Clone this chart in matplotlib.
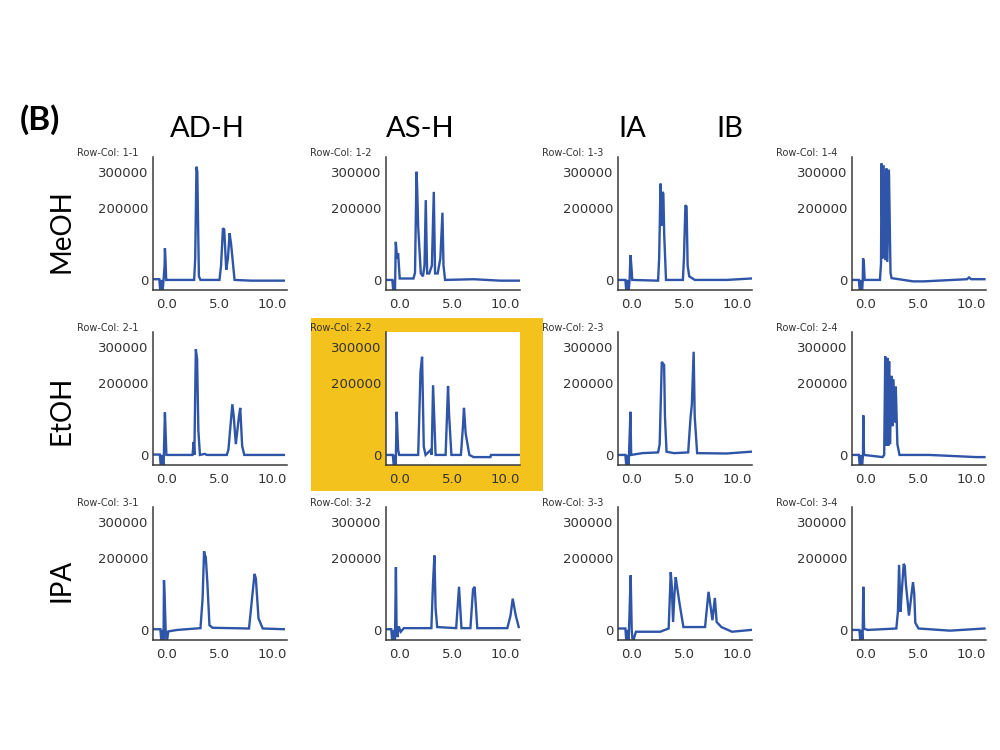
import matplotlib
matplotlib.use("Agg")
import matplotlib.pyplot as plt
from matplotlib.patches import Rectangle

# ---------------- data ----------------
COLUMNS = ["AD-H", "AS-H", "IA", "IB"]
ROWS = ["MeOH", "EtOH", "IPA"]
X_TICKS = [0.0, 5.0, 10.0]
X_TICKLABELS = ["0.0", "5.0", "10.0"]
Y_TICKS = [0, 200000, 300000]
Y_TICKLABELS = ["0", "200000", "300000"]

# Row 1 : MeOH
T_MEOH_ADH = [-1.27, -0.7, -0.6, -0.5, -0.4, -0.3, -0.2, -0.17, -0.1, -0.05, 0.1, 2.6, 2.7, 2.82, 2.9, 2.97, 3.05, 3.2, 5.0, 5.15, 5.33, 5.45, 5.64, 5.8, 5.96, 6.1, 6.43, 8.0, 11.1]
I_MEOH_ADH = [2000, 2000, -35000, 0, -35000, 0, 40000, 88000, 46000, 0, 0, 0, 60000, 315000, 301000, 162000, 10000, 0, 0, 40000, 144000, 140000, 28000, 60000, 130000, 100000, 0, -2000, -2000]

T_MEOH_ASH = [-1.3, -0.7, -0.6, -0.5, -0.45, -0.37, -0.25, -0.15, 0.0, 1.3, 1.45, 1.59, 1.65, 1.75, 2.0, 2.2, 2.35, 2.47, 2.6, 2.8, 3.05, 3.23, 3.35, 3.6, 3.85, 4.05, 4.15, 4.3, 7.0, 9.5, 11.34]
I_MEOH_ASH = [0, 0, -35000, 0, -35000, 106000, 60000, 74000, 4000, 4000, 20000, 301000, 259000, 148000, 18000, 10000, 40000, 222000, 18000, 18000, 40000, 245000, 18000, 18000, 60000, 187000, 40000, 0, 2000, -2000, -2000]

T_MEOH_IA = [-1.27, -0.6, -0.5, -0.4, -0.3, -0.2, -0.12, -0.05, 0.05, 2.5, 2.6, 2.73, 2.8, 2.92, 3.0, 3.08, 3.25, 4.85, 4.95, 5.09, 5.2, 5.3, 5.45, 5.98, 9.0, 11.31]
I_MEOH_IA = [0, 0, -35000, 0, -35000, 0, 69000, 46000, 0, -2000, 60000, 268000, 150000, 245000, 240000, 125000, 0, 0, 60000, 208000, 204000, 40000, 10000, 0, 0, 4000]

T_MEOH_IB = [-1.33, -0.65, -0.55, -0.45, -0.35, -0.28, -0.25, -0.18, -0.1, 1.35, 1.45, 1.5, 1.6, 1.7, 1.85, 1.97, 2.05, 2.2, 2.35, 2.45, 4.5, 5.5, 9.6, 9.8, 10.0, 11.25]
I_MEOH_IB = [0, 0, -35000, 0, -35000, 0, 60000, 50000, 0, 0, 46000, 324000, 60000, 319000, 55000, 310000, 50000, 307000, 20000, 5000, -4000, -4000, 2000, 7000, 2000, 2000]

# Row 2 : EtOH
T_ETOH_ADH = [-1.27, -0.65, -0.55, -0.45, -0.3, -0.17, -0.1, -0.03, 2.45, 2.55, 2.62, 2.76, 2.88, 3.0, 3.15, 3.6, 3.8, 5.7, 5.85, 6.22, 6.35, 6.55, 6.85, 6.97, 7.15, 7.35, 11.1]
I_ETOH_ADH = [1000, 1000, -35000, 0, -35000, 118000, 60000, 0, 0, 36000, 0, 294000, 266000, 67000, 0, 3000, 0, 0, 15000, 141000, 108000, 30000, 108000, 131000, 25000, 0, 0]

T_ETOH_ASH = [-1.3, -0.65, -0.55, -0.45, -0.38, -0.29, -0.15, -0.05, 1.75, 1.97, 2.12, 2.28, 2.45, 2.95, 3.03, 3.16, 3.4, 4.35, 4.58, 4.68, 4.9, 5.8, 5.99, 6.09, 6.25, 6.6, 7.0, 8.6, 8.65, 11.28]
I_ETOH_ASH = [0, 0, -35000, 0, -35000, 120000, 14000, 0, 0, 231000, 273000, 23000, 0, 14000, 0, 194000, 0, 0, 192000, 111000, 0, 0, 78000, 131000, 60000, 0, -6000, -6000, 0, 0]

T_ETOH_IA = [-1.27, -0.6, -0.5, -0.4, -0.3, -0.22, -0.12, -0.05, 1.0, 2.5, 2.65, 2.85, 2.95, 3.07, 3.15, 3.3, 4.0, 5.35, 5.57, 5.7, 5.87, 5.97, 6.2, 9.0, 11.31]
I_ETOH_IA = [0, 0, -35000, 0, -35000, 33000, 120000, 0, 5000, 7000, 30000, 259000, 255000, 250000, 107000, 9000, 5000, 7000, 102000, 140000, 287000, 107000, 5000, 4000, 9000]

T_ETOH_IB = [-1.33, -0.65, -0.55, -0.45, -0.35, -0.26, -0.23, -0.16, 1.6, 1.75, 1.85, 1.97, 2.05, 2.13, 2.22, 2.3, 2.45, 2.55, 2.6, 2.75, 2.85, 3.0, 3.2, 6.0, 10.5, 11.25]
I_ETOH_IB = [0, 0, -35000, 0, -35000, 0, 110000, 0, -6000, 0, 274000, 25000, 270000, 25000, 260000, 30000, 220000, 80000, 210000, 90000, 190000, 30000, 0, 0, -6000, -6000]

# Row 3 : IPA
T_IPA_ADH = [-1.27, -0.6, -0.5, -0.4, -0.3, -0.26, -0.2, -0.1, 0.0, 0.15, 1.0, 3.2, 3.4, 3.54, 3.6, 3.7, 3.85, 4.05, 4.35, 7.8, 8.15, 8.32, 8.45, 8.7, 9.1, 11.1]
I_IPA_ADH = [2000, 2000, -35000, 0, -35000, 138000, 96000, 0, -35000, -4000, 0, 5000, 87000, 219000, 210000, 203000, 133000, 13000, 6000, 4000, 106000, 156000, 143000, 32000, 4000, 2000]

T_IPA_ASH = [-1.3, -0.8, -0.7, -0.55, -0.45, -0.36, -0.3, -0.2, -0.1, 0.1, 0.4, 3.0, 3.16, 3.29, 3.4, 3.55, 5.35, 5.62, 5.85, 6.7, 6.95, 7.1, 7.35, 10.2, 10.5, 10.71, 11.0, 11.28]
I_IPA_ASH = [2000, 2000, -35000, 0, -35000, 175000, 13000, -20000, 10000, -5000, 5000, 5000, 133000, 207000, 60000, 8000, 5000, 120000, 5000, 5000, 113000, 120000, 5000, 5000, 40000, 87000, 40000, 8000]

T_IPA_IA = [-1.27, -0.6, -0.5, -0.4, -0.3, -0.22, -0.1, 0.0, 0.1, 0.4, 2.7, 3.5, 3.7, 3.8, 3.92, 4.05, 4.17, 4.3, 4.55, 4.9, 6.95, 7.28, 7.5, 7.65, 7.88, 8.05, 8.5, 9.5, 11.31]
I_IPA_IA = [4000, 4000, -35000, 0, -35000, 36000, 152000, 0, -35000, -5000, -5000, 4000, 161000, 120000, 22000, 100000, 147000, 120000, 70000, 8000, 8000, 106000, 60000, 27000, 89000, 22000, 8000, -5000, 0]

T_IPA_IB = [-1.33, -0.6, -0.5, -0.4, -0.3, -0.23, -0.15, 0.2, 2.9, 3.05, 3.16, 3.3, 3.4, 3.6, 3.7, 3.8, 4.1, 4.48, 4.6, 4.7, 5.0, 8.0, 11.25]
I_IPA_IB = [0, 0, -35000, 0, -35000, 120000, 3000, 0, 4000, 50000, 181000, 50000, 100000, 184000, 178000, 130000, 40000, 133000, 100000, 20000, 4000, -2000, 4000]

TRACES = [
    [(T_MEOH_ADH, I_MEOH_ADH), (T_MEOH_ASH, I_MEOH_ASH), (T_MEOH_IA, I_MEOH_IA), (T_MEOH_IB, I_MEOH_IB)],
    [(T_ETOH_ADH, I_ETOH_ADH), (T_ETOH_ASH, I_ETOH_ASH), (T_ETOH_IA, I_ETOH_IA), (T_ETOH_IB, I_ETOH_IB)],
    [(T_IPA_ADH, I_IPA_ADH), (T_IPA_ASH, I_IPA_ASH), (T_IPA_IA, I_IPA_IA), (T_IPA_IB, I_IPA_IB)],
]

# ---------------- layout ----------------
W, H = 1000, 750
fig = plt.figure(figsize=(10, 7.5), dpi=100)
fig.patch.set_facecolor("white")

ax_lefts = [153, 386, 618, 852]
ax_tops = [157, 332, 507]
ax_w, ax_h = 134, 133
trace_color = "#2E55A8"
spine_color = "#3a3a3a"

# highlight box behind panel 2-2
fig.add_artist(Rectangle((311 / W, 1 - 491 / H), (543 - 311) / W, (491 - 318) / H,
                         transform=fig.transFigure, facecolor="#F4C21C",
                         edgecolor="none", zorder=0))

for r in range(3):
    for c in range(4):
        L, T = ax_lefts[c], ax_tops[r]
        ax = fig.add_axes([L / W, 1 - (T + ax_h) / H, ax_w / W, ax_h / H])
        ax.set_facecolor("white")
        ax.set_zorder(1)
        t, v = TRACES[r][c]
        ax.plot(t, v, color=trace_color, lw=1.7, solid_joinstyle="miter")
        ax.set_xlim(-1.3, 11.4)
        ax.set_ylim(-28000, 342000)
        ax.set_xticks(X_TICKS)
        ax.set_xticklabels(X_TICKLABELS)
        ax.set_yticks(Y_TICKS)
        ax.set_yticklabels(Y_TICKLABELS)
        ax.tick_params(length=0, labelsize=9.5, labelcolor="#333333")
        ax.tick_params(axis="x", pad=6)
        ax.tick_params(axis="y", pad=3)
        for s in ["top", "right"]:
            ax.spines[s].set_visible(False)
        for s in ["left", "bottom"]:
            ax.spines[s].set_color(spine_color)
            ax.spines[s].set_linewidth(1.1)
        fig.text((L - 76) / W, 1 - 153 / H + (157 - T) / H, f"Row-Col: {r + 1}-{c + 1}",
                 fontsize=7, color="#333333", ha="left", va="center", zorder=3)

# column headers
header_x = [207, 420, 632, 730]
for name, x in zip(COLUMNS, header_x):
    fig.text(x / W, 1 - 129 / H, name, fontsize=21, family="Lato",
             ha="center", va="center", color="black")

# row labels
row_y = [231, 410, 580]
for name, y in zip(ROWS, row_y):
    fig.text(62 / W, 1 - y / H, name, fontsize=20, family="Lato", rotation=90,
             ha="center", va="center", color="black")

fig.text(40 / W, 1 - 120 / H, "(B)", fontsize=24, family="Lato", weight="bold",
         ha="center", va="center", color="black")

fig.savefig("out.png", dpi=100, facecolor="white")
